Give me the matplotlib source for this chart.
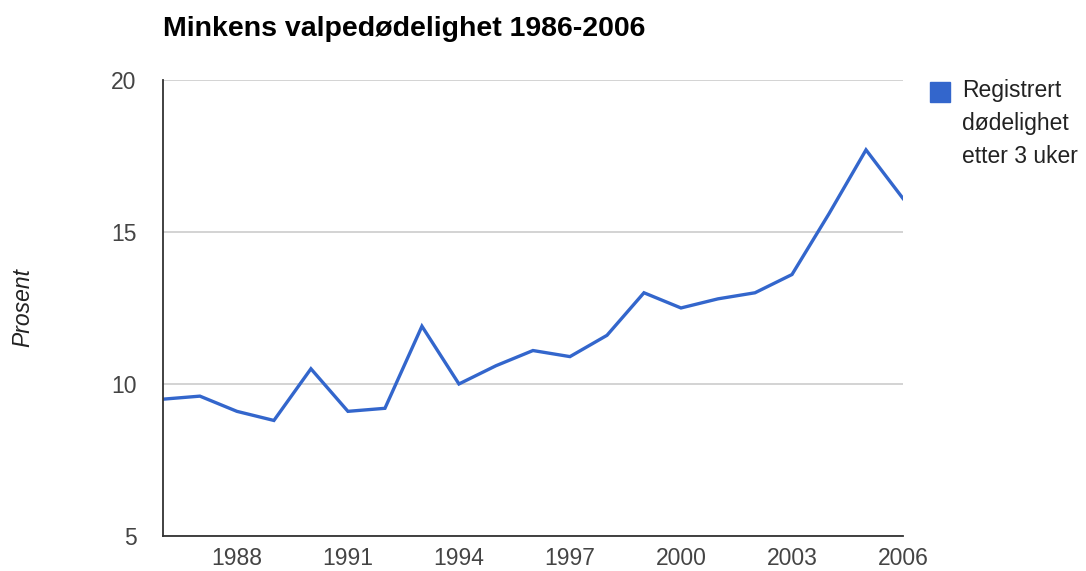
import matplotlib
matplotlib.use('Agg')
import matplotlib.pyplot as plt
from matplotlib.patches import Rectangle

# Registrert dødelighet etter 3 uker (prosent)
years = list(range(1986, 2007))
mortality = [9.5, 9.6, 9.1, 8.8, 10.5, 9.1, 9.2, 11.9, 10.0, 10.6, 11.1,
             10.9, 11.6, 13.0, 12.5, 12.8, 13.0, 13.6, 15.6, 17.7, 16.1]
x_ticks = [1988, 1991, 1994, 1997, 2000, 2003, 2006]
y_ticks = [5, 10, 15, 20]

plt.rcParams['font.family'] = ['Liberation Sans', 'DejaVu Sans']

fig = plt.figure(figsize=(10.86, 5.71), dpi=100)
ax = fig.add_axes([0.150, 0.0613, 0.6815, 0.7987])

ax.plot(years, mortality, color='#3366cc', linewidth=2.4, solid_joinstyle='miter')

ax.set_xlim(1986, 2006)
ax.set_ylim(5, 20)
ax.set_xticks(x_ticks)
ax.set_yticks(y_ticks)
ax.tick_params(length=0, labelsize=16.5, colors='#444444')
ax.tick_params(axis='y', pad=19)
ax.tick_params(axis='x', pad=8)
ax.grid(axis='y', color='#cccccc', linewidth=1.2)
ax.set_axisbelow(True)

for side in ['top', 'right']:
    ax.spines[side].set_visible(False)
for side in ['left', 'bottom']:
    ax.spines[side].set_color('#333333')
    ax.spines[side].set_linewidth(1.3)

fig.text(23 / 1086, 1 - 307 / 571, 'Prosent', fontsize=16.5, style='italic',
         color='#222222', rotation=90, va='center', ha='center')

fig.text(163 / 1086, 1 - 29 / 571, 'Minkens valpedødelighet 1986-2006',
         fontsize=20.5, fontweight='bold', va='center', ha='left', color='#000000')

# legend
fig.patches.append(Rectangle((930 / 1086, 1 - 102 / 571), 20 / 1086, 20 / 571,
                             transform=fig.transFigure, color='#3366cc'))
fig.text(962 / 1086, 1 - 79 / 571, 'Registrert\ndødelighet\netter 3 uker',
         fontsize=16.5, va='top', ha='left', color='#222222', linespacing=1.55)

fig.savefig('out.png', dpi=100)
